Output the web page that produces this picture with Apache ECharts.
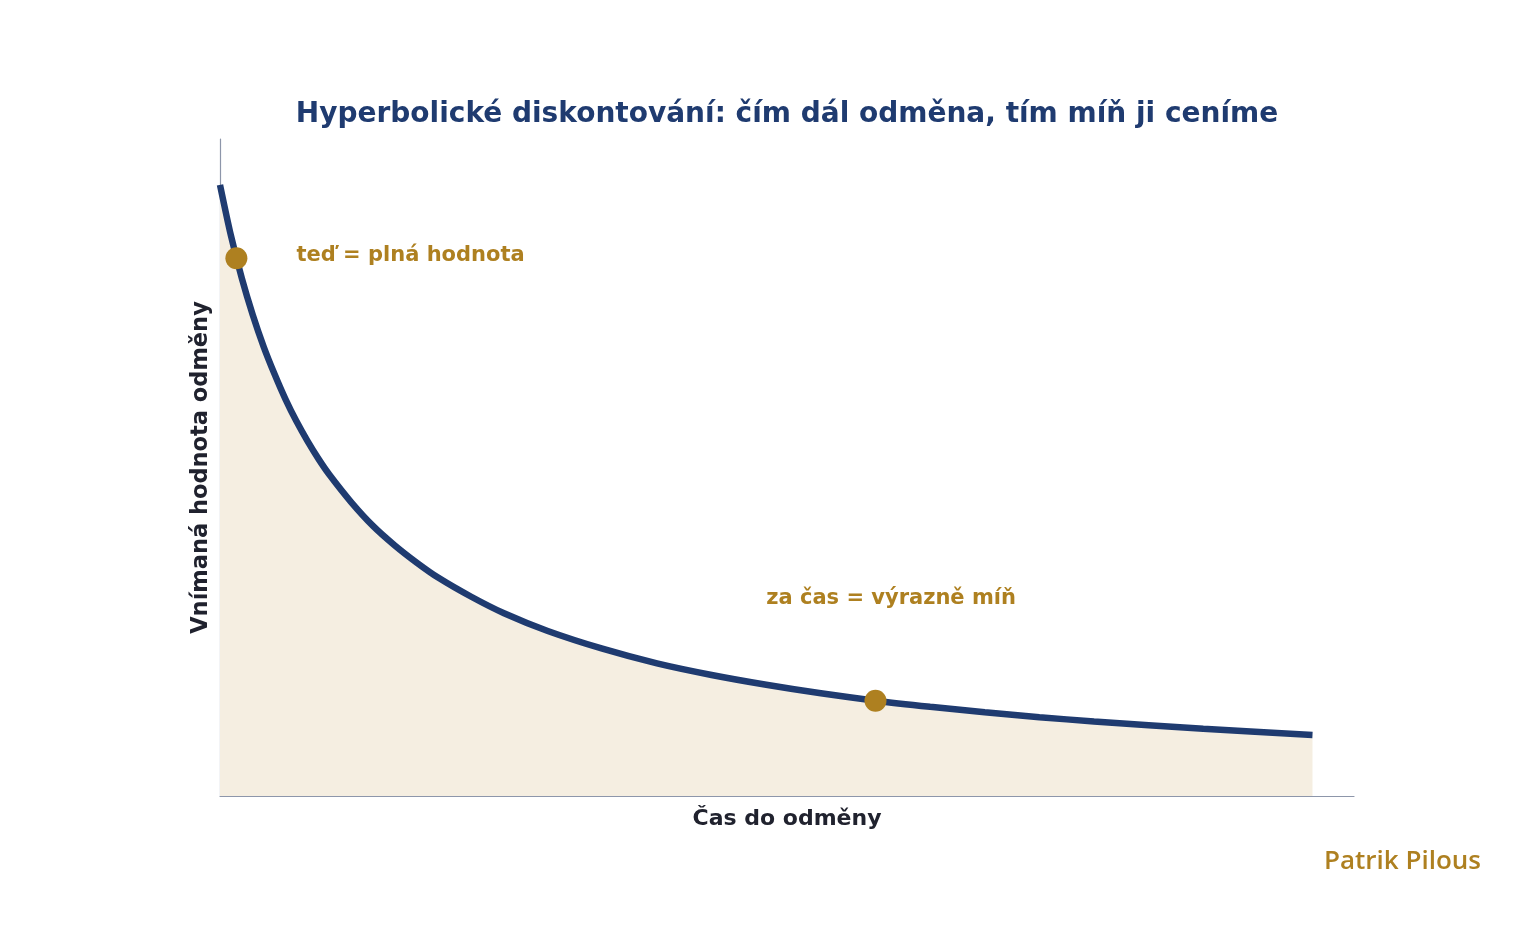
<!DOCTYPE html>
<head>
    <title>ECharts</title>
    <meta charset="UTF-8">
    <style>
        html, body { margin: 0; padding: 0; background: #fff; }
        #main { width: 1537px; height: 927px; }
    </style>
</head>
<body>
    <div id="main"></div>
    <script src="https://cdn.jsdelivr.net/npm/echarts@6/dist/echarts.min.js"></script>
    <script type="text/javascript">
    // čas do odměny a vnímaná hodnota
    var casy = [0, 0.1, 0.2, 0.3, 0.4, 0.5, 0.6, 0.7, 0.8, 0.9, 1.0, 1.2, 1.4, 1.6, 1.8, 2.0, 2.3, 2.6, 3.0, 3.5, 4, 4.5, 5, 5.5, 6, 6.5, 7, 7.5, 8, 9, 10];
    var hodnoty = [1.000, 0.917, 0.847, 0.787, 0.735, 0.690, 0.649, 0.613, 0.581, 0.552, 0.526, 0.481, 0.442, 0.410, 0.382, 0.357, 0.326, 0.299, 0.270, 0.241, 0.217, 0.198, 0.182, 0.168, 0.156, 0.146, 0.137, 0.129, 0.122, 0.110, 0.100];

    // zvýrazněné body
    var body = [[0.15, 0.88], [6, 0.156]];

    // popisky [x, y, text]
    var popisky = [
        [0.70, 0.884, 'teď = plná hodnota'],
        [5.0, 0.323, 'za čas = výrazně míň']
    ];

    var navy = '#1f3b70';
    var gold = '#ae8020';

    var krivka = [];
    for (var i = 0; i < casy.length; i++) {
        krivka.push([casy[i], hodnoty[i]]);
    }

    var myChart = echarts.init(document.getElementById('main'));
    myChart.setOption({
        animation: false,
        title: {
            text: 'Hyperbolické diskontování: čím dál odměna, tím míň ji ceníme',
            left: 782,
            top: 96,
            textAlign: 'center',
            textStyle: { fontFamily: 'DejaVu Sans', fontWeight: 'bold', fontSize: 28, color: navy }
        },
        grid: { left: 220, right: 183, top: 139, bottom: 131 },
        xAxis: {
            type: 'value',
            min: 0,
            max: 10.38,
            name: 'Čas do odměny',
            nameLocation: 'middle',
            nameGap: 12,
            nameTextStyle: { fontFamily: 'DejaVu Sans', fontWeight: 'bold', fontSize: 22, color: '#20222e' },
            axisLine: { lineStyle: { color: '#8d96aa', width: 1.2 } },
            axisTick: { show: false },
            axisLabel: { show: false },
            splitLine: { show: false }
        },
        yAxis: {
            type: 'value',
            min: 0,
            max: 1.075,
            name: 'Vnímaná hodnota odměny',
            nameLocation: 'middle',
            nameGap: 7,
            nameTextStyle: { fontFamily: 'DejaVu Sans', fontWeight: 'bold', fontSize: 22.5, color: '#20222e' },
            axisLine: { show: true, lineStyle: { color: '#8d96aa', width: 1.2 } },
            axisTick: { show: false },
            axisLabel: { show: false },
            splitLine: { show: false }
        },
        series: [
            {
                type: 'line',
                data: krivka,
                smooth: 0.3,
                showSymbol: false,
                lineStyle: { color: navy, width: 6.5 },
                areaStyle: { color: '#f5eee1', opacity: 1 },
                z: 2
            },
            {
                type: 'scatter',
                data: body,
                symbolSize: 22,
                itemStyle: { color: gold, opacity: 1 },
                z: 3
            },
            {
                type: 'scatter',
                data: popisky,
                symbolSize: 0,
                itemStyle: { opacity: 1 },
                label: {
                    show: true,
                    position: 'right',
                    distance: 0,
                    formatter: function (p) { return p.value[2]; },
                    fontFamily: 'DejaVu Sans',
                    fontWeight: 'bold',
                    fontSize: 21,
                    color: gold,
                    opacity: 1
                },
                z: 4
            }
        ],
        graphic: [
            {
                type: 'text',
                right: 56,
                top: 849,
                style: {
                    text: 'Patrik Pilous',
                    fontFamily: 'Open Sans',
                    fontWeight: 600,
                    fontSize: 26,
                    fill: gold
                }
            }
        ]
    });
    </script>
</body>
